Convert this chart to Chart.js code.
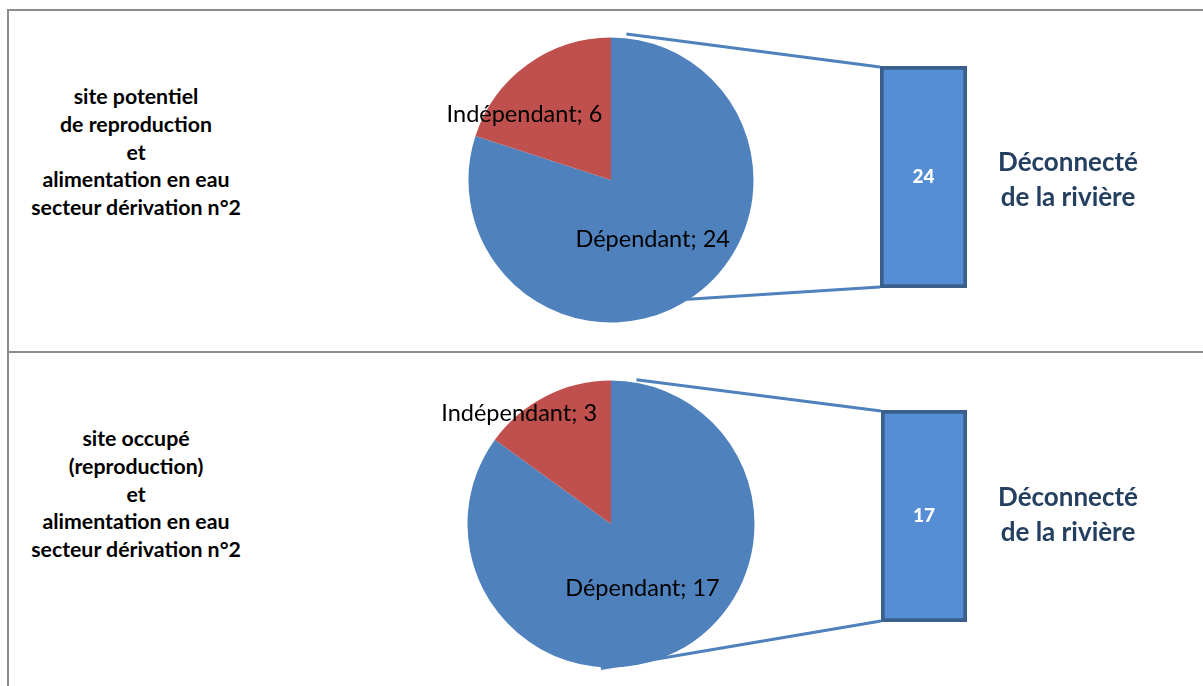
<!DOCTYPE html>
<html lang="fr">
<head>
<meta charset="utf-8">
<title>Alimentation en eau – secteur dérivation n°2</title>
<script src="https://cdn.jsdelivr.net/npm/chart.js@4.4.1/dist/chart.umd.min.js"></script>
<style>
  html, body { margin: 0; padding: 0; background: #ffffff; }
  body { width: 1203px; height: 686px; position: relative; overflow: hidden; font-family: Lato, "Open Sans", sans-serif; }
  .frame { position: absolute; left: 7px; width: 1300px; border: 2px solid #8c8c8c; box-sizing: border-box; }
  .side { position: absolute; width: 270px; text-align: center; font-weight: 700; font-size: 21.3px; line-height: 27.8px; color: #000; }
  .tag { position: absolute; width: 220px; text-align: center; font-weight: 700; font-size: 26px; line-height: 35px; color: #243f60; }
  canvas { position: absolute; }
  #links { left: 0; top: 0; pointer-events: none; }
</style>
</head>
<body>
<div class="frame" style="top:9px;height:344px;"></div>
<div class="frame" style="top:351px;height:400px;"></div>

<div class="side" id="side1" style="left:1px;top:83px;"></div>
<div class="side" id="side2" style="left:1px;top:425px;"></div>

<canvas id="pie1" width="420" height="320" style="left:401px;top:20px;"></canvas>
<canvas id="pie2" width="420" height="320" style="left:401px;top:364px;"></canvas>
<canvas id="bar1" width="87" height="222" style="left:880px;top:66px;"></canvas>
<canvas id="bar2" width="86" height="212" style="left:881px;top:410px;"></canvas>

<div class="tag" id="tag1" style="left:958px;top:144px;"></div>
<div class="tag" id="tag2" style="left:958px;top:479px;"></div>

<canvas id="links" width="1203" height="686"></canvas>

<script>
// Categories and values
const categories = ['Dépendant', 'Indépendant'];
const potentielValues = [24, 6];   // site potentiel de reproduction
const occupeValues = [17, 3];      // site occupé (reproduction)
const barCategory = ['Déconnecté de la rivière'];
const potentielBar = [24];
const occupeBar = [17];
const potentielTitle = ['site potentiel', 'de reproduction', 'et', 'alimentation en eau', 'secteur dérivation n°2'];
const occupeTitle = ['site occupé', '(reproduction)', 'et', 'alimentation en eau', 'secteur dérivation n°2'];
const tagLines = ['Déconnecté', 'de la rivière'];

const pieColors = ['#4f81bd', '#c0504d'];
const barFill = '#558ed5';
const barEdge = '#3a5f8b';
const linkColor = '#4f81bd';

function fillLines(id, lines) {
  const el = document.getElementById(id);
  lines.forEach((t, i) => {
    if (i) el.appendChild(document.createElement('br'));
    el.appendChild(document.createTextNode(t));
  });
}
fillLines('side1', potentielTitle);
fillLines('side2', occupeTitle);
fillLines('tag1', tagLines);
fillLines('tag2', tagLines);

// "Category; value" labels placed around each slice's mid angle
const sliceLabels = {
  id: 'sliceLabels',
  afterDatasetsDraw(chart, args, opts) {
    const ctx = chart.ctx;
    const meta = chart.getDatasetMeta(0);
    const values = chart.data.datasets[0].data;
    ctx.save();
    ctx.font = opts.font;
    ctx.fillStyle = opts.color;
    ctx.textAlign = 'center';
    ctx.textBaseline = 'middle';
    meta.data.forEach((arc, i) => {
      const p = opts.place[i];
      const mid = (arc.startAngle + arc.endAngle) / 2 + p.shift * Math.PI / 180;
      const r = arc.outerRadius * p.dist;
      ctx.fillText(chart.data.labels[i] + '; ' + values[i], arc.x + Math.cos(mid) * r, arc.y + Math.sin(mid) * r);
    });
    ctx.restore();
  }
};

// Value printed in the middle of the bar
const barValue = {
  id: 'barValue',
  afterDatasetsDraw(chart) {
    const ctx = chart.ctx;
    const bar = chart.getDatasetMeta(0).data[0];
    const v = chart.data.datasets[0].data[0];
    ctx.save();
    ctx.font = '900 19px Lato, sans-serif';
    ctx.fillStyle = '#ffffff';
    ctx.textAlign = 'center';
    ctx.textBaseline = 'middle';
    ctx.fillText(String(v), bar.x, (bar.y + bar.base) / 2);
    ctx.restore();
  }
};

function makePie(id, values, radius, place) {
  return new Chart(document.getElementById(id), {
    type: 'pie',
    data: {
      labels: categories,
      datasets: [{ data: values, backgroundColor: pieColors, borderWidth: 0, radius: radius }]
    },
    options: {
      responsive: false,
      animation: false,
      layout: { padding: 0 },
      plugins: {
        legend: { display: false },
        tooltip: { enabled: false },
        sliceLabels: { font: '400 23.5px Lato, sans-serif', color: '#000000', place: place }
      }
    },
    plugins: [sliceLabels]
  });
}

function makeBar(id, values) {
  return new Chart(document.getElementById(id), {
    type: 'bar',
    data: {
      labels: barCategory,
      datasets: [{
        data: values,
        backgroundColor: barFill,
        borderColor: barEdge,
        borderWidth: 4,
        borderSkipped: false,
        barPercentage: 1,
        categoryPercentage: 1
      }]
    },
    options: {
      responsive: false,
      animation: false,
      layout: { padding: 0 },
      scales: {
        x: { display: false },
        y: { display: false, min: 0, max: values[0] }
      },
      plugins: { legend: { display: false }, tooltip: { enabled: false } }
    },
    plugins: [barValue]
  });
}

const pie1 = makePie('pie1', potentielValues, 142.5, [{ shift: 1, dist: 0.51 }, { shift: -17, dist: 0.76 }]);
const pie2 = makePie('pie2', occupeValues, 143.5, [{ shift: 1, dist: 0.5 }, { shift: -12.8, dist: 1.0 }]);
const bar1 = makeBar('bar1', potentielBar);
const bar2 = makeBar('bar2', occupeBar);

// Connector lines from each pie to its breakdown bar
function drawLinks(pie, bar, topAnchor, bottomAnchor) {
  const ctx = document.getElementById('links').getContext('2d');
  const arc = pie.getDatasetMeta(0).data[0];
  const pc = pie.canvas, bc = bar.canvas;
  const cx = pc.offsetLeft + arc.x, cy = pc.offsetTop + arc.y, r = arc.outerRadius;
  const b = bar.getDatasetMeta(0).data[0];
  const bx = bc.offsetLeft + b.x - b.width / 2;
  const by0 = bc.offsetTop + b.y, by1 = bc.offsetTop + b.base;
  const pt = (a) => [cx + Math.cos(a.angle * Math.PI / 180) * r * a.dist, cy + Math.sin(a.angle * Math.PI / 180) * r * a.dist];
  const s0 = pt(topAnchor), s1 = pt(bottomAnchor);
  ctx.save();
  ctx.strokeStyle = linkColor;
  ctx.lineWidth = 3;
  ctx.beginPath();
  ctx.moveTo(s0[0], s0[1]); ctx.lineTo(bx, by0 + 1);
  ctx.moveTo(s1[0], s1[1]); ctx.lineTo(bx, by1 - 1);
  ctx.stroke();
  ctx.restore();
}
drawLinks(pie1, bar1, { angle: -84, dist: 1.03 }, { angle: 87, dist: 0.87 });
drawLinks(pie2, bar2, { angle: -80, dist: 1.02 }, { angle: 94, dist: 1.01 });
</script>
</body>
</html>
